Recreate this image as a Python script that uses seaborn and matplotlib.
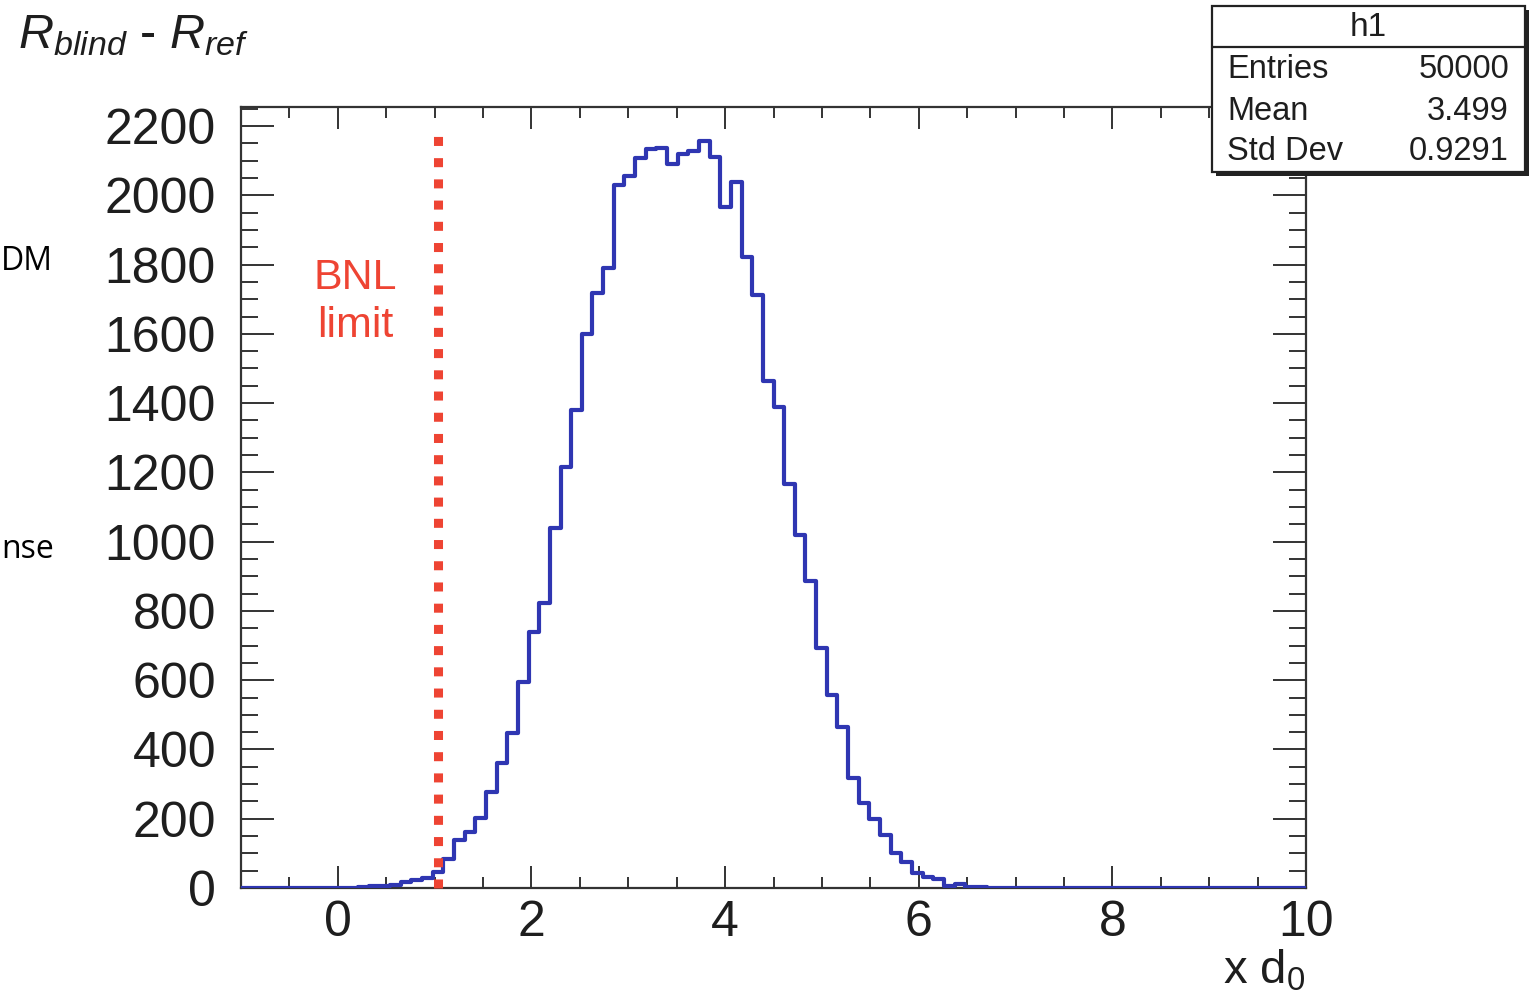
import numpy as np
import pandas as pd
import matplotlib
matplotlib.use("Agg")
import matplotlib.pyplot as plt
from matplotlib.ticker import MultipleLocator
from matplotlib.patches import Rectangle
from matplotlib.lines import Line2D
import seaborn as sns

# ---------------- data ----------------
x_min, x_max, n_bins = -1.0, 10.0, 100
counts = [0, 0, 0, 0, 0, 0, 0, 0, 0, 0,
          0, 3, 5, 6, 10, 16, 22, 28, 47, 83,
          139, 163, 201, 278, 362, 447, 596, 738, 824, 1038,
          1216, 1380, 1601, 1717, 1789, 2031, 2057, 2107, 2133, 2137,
          2089, 2118, 2128, 2157, 2111, 1967, 2039, 1821, 1712, 1463,
          1388, 1166, 1019, 887, 692, 557, 466, 317, 246, 198,
          153, 100, 76, 44, 33, 25, 6, 12, 3, 2,
          1, 0, 0, 0, 0, 0, 0, 0, 0, 0,
          0, 0, 0, 0, 0, 0, 0, 0, 0, 0,
          0, 0, 0, 0, 0, 0, 0, 0, 0, 0]
bnl_limit = 1.03
bnl_top = 2200
stats_title = "h1"
stats_labels = ["Entries", "Mean", "Std Dev"]
stats_values = ["50000", "3.499", "0.9291"]
x_ticks = [0, 2, 4, 6, 8, 10]
y_ticks = list(range(0, 2201, 200))

edges = np.linspace(x_min, x_max, n_bins + 1)
centers = 0.5 * (edges[:-1] + edges[1:])
df = pd.DataFrame({"x": centers, "w": np.asarray(counts, dtype=float)})

# ---------------- style ----------------
sns.set_style("ticks")
plt.rcParams["font.family"] = ["Liberation Sans", "DejaVu Sans"]
plt.rcParams["mathtext.fontset"] = "custom"
plt.rcParams["mathtext.rm"] = "Liberation Sans"
plt.rcParams["mathtext.it"] = "Liberation Sans:italic"
plt.rcParams["mathtext.bf"] = "Liberation Sans:bold"

W, H = 1532, 997
fig = plt.figure(figsize=(W / 100, H / 100), dpi=100)
fig.patch.set_facecolor("white")

def fx(px):
    return px / W

def fy(py):
    return 1 - py / H

ax_l, ax_r, ax_t, ax_b = 241, 1306, 107, 888
ax = fig.add_axes([fx(ax_l), fy(ax_b), (ax_r - ax_l) / W, (ax_b - ax_t) / H])

hist_color = "#2f36b2"
red = "#ee4433"
ink = "#1e1e1e"

sns.histplot(data=df, x="x", weights="w", bins=list(edges), element="step", fill=False,
             color=hist_color, linewidth=3.0, ax=ax, zorder=3)

ax.plot([bnl_limit, bnl_limit], [0, bnl_top], color=red, linewidth=6.5,
        linestyle=(0, (1.0, 1.35)), solid_capstyle="butt", dash_capstyle="butt",
        zorder=4, clip_on=False)

ax.text(0.18, 1692, "BNL\nlimit", color=red, fontsize=31, ha="center",
        va="center", linespacing=1.25)

ax.set_xlim(x_min, x_max)
ax.set_ylim(0, 2255)
ax.set_xlabel("")
ax.set_ylabel("")
ax.set_xticks(x_ticks)
ax.set_yticks(y_ticks)
ax.xaxis.set_minor_locator(MultipleLocator(0.5))
ax.yaxis.set_minor_locator(MultipleLocator(50))

for s in ax.spines.values():
    s.set_visible(True)
    s.set_color("#333333")
    s.set_linewidth(1.6)

ax.tick_params(axis="both", which="both", direction="in", top=True, right=True,
               colors="#333333", labelcolor=ink, width=1.4)
ax.tick_params(axis="x", which="major", length=16, pad=9, labelsize=36)
ax.tick_params(axis="x", which="minor", length=8)
ax.tick_params(axis="y", which="major", length=24, pad=18, labelsize=36)
ax.tick_params(axis="y", which="minor", length=12)

# axis titles
fig.text(fx(1305), fy(983), r"x d$_{0}$", fontsize=34, ha="right",
         va="baseline", color=ink)
fig.text(fx(18), fy(48), r"$R_{blind}$ - $R_{ref}$", fontsize=35, ha="left",
         va="baseline", color=ink)

# stats box
bl, bt, br, bb = 1212, 6, 1525, 172
fig.patches.append(Rectangle((fx(bl + 4), fy(bb + 4)), (br - bl) / W, (bb - bt) / H,
                             transform=fig.transFigure, facecolor="#222222",
                             edgecolor="none", zorder=10))
fig.patches.append(Rectangle((fx(bl), fy(bb)), (br - bl) / W, (bb - bt) / H,
                             transform=fig.transFigure, facecolor="white",
                             edgecolor="#222222", linewidth=1.6, zorder=11))
fig.lines.append(Line2D([fx(bl), fx(br)], [fy(47), fy(47)], transform=fig.transFigure,
                        color="#222222", linewidth=1.6, zorder=12))
fig.text(fx((bl + br) / 2), fy(28), stats_title, fontsize=24, ha="center",
         va="center", color=ink, zorder=13)
row_y = [70, 111, 152]
for lab, val, yy in zip(stats_labels, stats_values, row_y):
    fig.text(fx(1227), fy(yy), lab, fontsize=23.5, ha="left", va="center",
             color=ink, zorder=13)
    fig.text(fx(1509), fy(yy), val, fontsize=23.5, ha="right", va="center",
             color=ink, zorder=13)

# slide fragments at the left edge
fig.text(fx(1), fy(262), "DM", fontsize=23, ha="left", va="center",
         family=["Open Sans", "DejaVu Sans"], color="black")
fig.text(fx(1), fy(550), "nse", fontsize=23, ha="left", va="center",
         family=["Open Sans", "DejaVu Sans"], color="black")

fig.savefig("out.png", dpi=100)
